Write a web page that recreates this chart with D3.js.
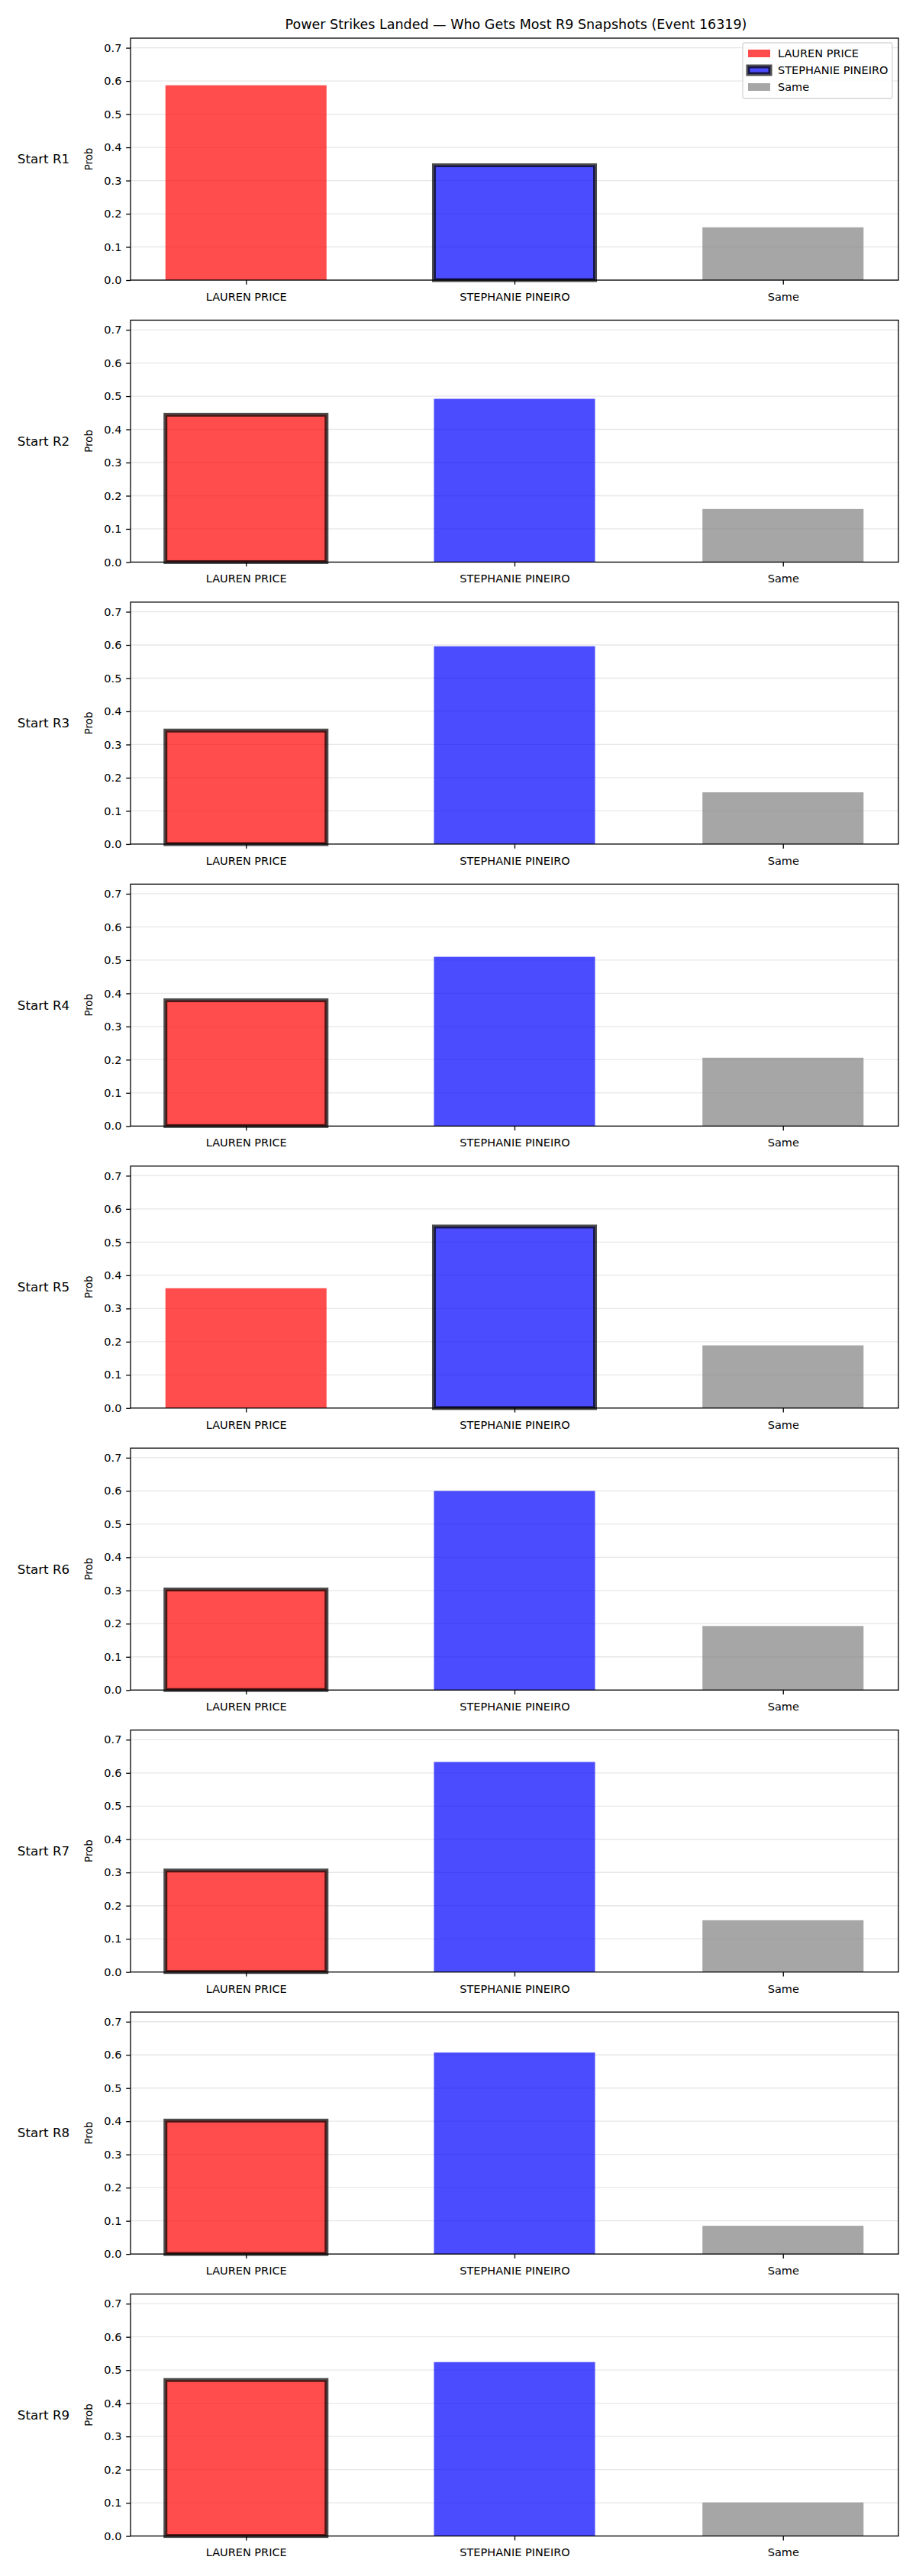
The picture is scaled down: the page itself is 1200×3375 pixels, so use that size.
<!DOCTYPE html>
<html>
<head>
<meta charset="utf-8">
<script src="https://cdn.jsdelivr.net/npm/d3@7"></script>
<style>
  body { margin: 0; background: #fff; }
  svg { display: block; font-family: "DejaVu Sans", sans-serif; }
</style>
</head>
<body>
<div id="chart"></div>
<script>
'use strict';

var title = 'Power Strikes Landed \u2014 Who Gets Most R9 Snapshots (Event 16319)';
var categories = ['LAUREN PRICE', 'STEPHANIE PINEIRO', 'Same'];
var rounds = ['Start R1', 'Start R2', 'Start R3', 'Start R4', 'Start R5', 'Start R6', 'Start R7', 'Start R8', 'Start R9'];
var laurenVals = [0.587, 0.444, 0.342, 0.379, 0.361, 0.303, 0.306, 0.402, 0.470];
var stephanieVals = [0.346, 0.492, 0.596, 0.510, 0.547, 0.600, 0.633, 0.607, 0.524];
var sameVals = [0.159, 0.160, 0.156, 0.206, 0.189, 0.193, 0.156, 0.085, 0.101];
// which category was leading at the snapshot (gets the dark outline)
var leader = [1, 0, 0, 0, 1, 0, 0, 0, 0];
var yTicks = [0, 0.1, 0.2, 0.3, 0.4, 0.5, 0.6, 0.7];

var colors = ['#ff0000', '#0000ff', '#808080'];

var width = 1200, height = 3375;
var axLeft = 171, axRight = 1177;
var axTop = 50, axHeight = 317, axStep = 369.45;
var tickLen = 5.8;

var svg = d3.select('#chart').append('svg')
  .attr('width', width)
  .attr('height', height);

svg.append('text')
  .attr('x', 676)
  .attr('y', 32)
  .attr('dy', '0.35em')
  .attr('text-anchor', 'middle')
  .style('font-size', '17.5px')
  .text(title);

var x = d3.scaleLinear().domain([-0.43, 2.43]).range([axLeft, axRight]);
var barW = x(0.6) - x(0);

rounds.forEach(function(label, i) {
  var top = axTop + i * axStep;
  var y = d3.scaleLinear().domain([0, 0.729]).range([top + axHeight, top]);
  var vals = [laurenVals[i], stephanieVals[i], sameVals[i]];
  var g = svg.append('g');

  // grid
  g.selectAll('line.grid')
    .data(yTicks)
    .enter().append('line')
    .attr('class', 'grid')
    .attr('x1', axLeft).attr('x2', axRight)
    .attr('y1', function(d) { return y(d); })
    .attr('y2', function(d) { return y(d); })
    .attr('stroke', '#b0b0b0')
    .attr('stroke-opacity', 0.3)
    .attr('stroke-width', 1.3);

  g.selectAll('rect.bar')
    .data(vals)
    .enter().append('rect')
    .attr('class', 'bar')
    .attr('x', function(d, j) { return x(j) - barW / 2; })
    .attr('y', function(d) { return y(d); })
    .attr('width', barW)
    .attr('height', function(d) { return y(0) - y(d); })
    .attr('fill', function(d, j) { return colors[j]; })
    .attr('fill-opacity', 0.7)
    .attr('stroke', function(d, j) { return j === leader[i] ? '#000' : 'none'; })
    .attr('stroke-opacity', 0.7)
    .attr('stroke-width', 5);

  // y axis
  var yAxis = d3.axisLeft(y)
    .tickValues(yTicks)
    .tickFormat(d3.format('.1f'))
    .tickSize(tickLen)
    .tickPadding(5.8);
  var ya = g.append('g')
    .attr('transform', 'translate(' + axLeft + ',0)')
    .call(yAxis);
  ya.select('.domain').remove();
  ya.selectAll('line').attr('stroke', '#000').attr('stroke-width', 1.3);
  ya.selectAll('text').style('font-size', '14.5px').style('font-family', '"DejaVu Sans", sans-serif').attr('fill', '#000');

  // x axis
  var xAxis = d3.axisBottom(x)
    .tickValues([0, 1, 2])
    .tickFormat(function(d) { return categories[d]; })
    .tickSize(tickLen)
    .tickPadding(10.8);
  var xa = g.append('g')
    .attr('transform', 'translate(0,' + (top + axHeight) + ')')
    .call(xAxis);
  xa.select('.domain').remove();
  xa.selectAll('line').attr('stroke', '#000').attr('stroke-width', 1.3);
  xa.selectAll('text').style('font-size', '14.5px').style('font-family', '"DejaVu Sans", sans-serif').attr('fill', '#000');

  // frame
  g.append('rect')
    .attr('x', axLeft).attr('y', top)
    .attr('width', axRight - axLeft).attr('height', axHeight)
    .attr('fill', 'none')
    .attr('stroke', '#000')
    .attr('stroke-width', 1.3);

  g.append('text')
    .attr('transform', 'translate(116,' + (top + axHeight / 2) + ') rotate(-90)')
    .attr('text-anchor', 'middle')
    .attr('dy', '0.35em')
    .style('font-size', '13.3px')
    .text('Prob');

  g.append('text')
    .attr('x', 57)
    .attr('y', top + axHeight / 2)
    .attr('dy', '0.35em')
    .attr('text-anchor', 'middle')
    .style('font-size', '16.7px')
    .text(label);
});

// legend, taken from the first panel's handles
var legend = svg.append('g');
legend.append('rect')
  .attr('x', 973).attr('y', 56)
  .attr('width', 196).attr('height', 73)
  .attr('rx', 3)
  .attr('fill', '#fff').attr('fill-opacity', 0.8)
  .attr('stroke', '#cccccc').attr('stroke-opacity', 0.8)
  .attr('stroke-width', 1.3);

var rows = legend.selectAll('g.row')
  .data(categories)
  .enter().append('g')
  .attr('class', 'row')
  .attr('transform', function(d, i) { return 'translate(980,' + (70 + i * 22) + ')'; });

rows.append('rect')
  .attr('x', 0).attr('y', -5)
  .attr('width', 29).attr('height', 10)
  .attr('fill', function(d, i) { return colors[i]; })
  .attr('fill-opacity', 0.7)
  .attr('stroke', function(d, i) { return i === leader[0] ? '#000' : 'none'; })
  .attr('stroke-opacity', 0.7)
  .attr('stroke-width', 5);

rows.append('text')
  .attr('x', 39)
  .attr('dy', '0.35em')
  .style('font-size', '14.5px')
  .text(function(d) { return d; });
</script>
</body>
</html>
